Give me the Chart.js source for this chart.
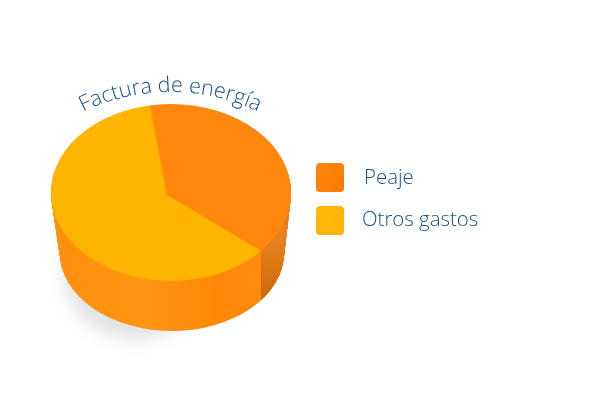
<!DOCTYPE html>
<html lang="es">
<head>
<meta charset="utf-8">
<title>Factura de energía</title>
<script src="https://cdn.jsdelivr.net/npm/chart.js@4"></script>
<style>
  html, body { margin: 0; padding: 0; background: #fff; }
  #wrap { position: relative; width: 600px; height: 404px; overflow: hidden; }
  canvas { position: absolute; left: 0; top: 0; }
  .swatch { position: absolute; left: 316px; width: 28px; height: 29px; border-radius: 4px; }
  .label { position: absolute; font: 300 20.4px "Open Sans", sans-serif; color: #14548a; line-height: 24px; white-space: nowrap; }
</style>
</head>
<body>
<div id="wrap">
  <canvas id="chart" width="600" height="404"></canvas>
</div>
<script>
// Data
const title = 'Factura de energía';
const categories = ['Peaje', 'Otros gastos'];
const shares = [38, 62];
const sliceColors = ['#ff870d', '#ffb400'];
const swatchColors = ['linear-gradient(135deg,#ff8610,#fb7804)', 'linear-gradient(135deg,#ffbc0c,#ffb004)'];

// Disc geometry, as seen in the picture
const topFace = { x: 171, y: 192.5, rx: 120, ry: 88.5 };
const baseFace = { x: 172, y: 253, rx: 112, ry: 78 };
const apex = { x: 167, y: 195 };
const titleArc = { x: 170.5, y: 295, r: 203 };

const wrap = document.getElementById('wrap');
categories.forEach((name, i) => {
  const swatch = document.createElement('div');
  swatch.className = 'swatch';
  swatch.style.top = (163 + i * 43) + 'px';
  swatch.style.background = swatchColors[i];
  wrap.appendChild(swatch);
  const label = document.createElement('div');
  label.className = 'label';
  label.textContent = name;
  label.style.left = (i === 0 ? 364 : 362) + 'px';
  label.style.top = (164 + i * 42) + 'px';
  wrap.appendChild(label);
});

function ellipsePath(ctx, e) {
  ctx.beginPath();
  ctx.ellipse(e.x, e.y, e.rx, e.ry, 0, 0, Math.PI * 2);
}

// Stack of ellipses between base and top face makes the side wall
function fillWall(ctx) {
  for (let t = 0; t <= 1; t += 0.01) {
    ctx.beginPath();
    ctx.ellipse(
      baseFace.x + (topFace.x - baseFace.x) * t,
      baseFace.y + (topFace.y - baseFace.y) * t,
      baseFace.rx + (topFace.rx - baseFace.rx) * t,
      baseFace.ry + (topFace.ry - baseFace.ry) * t,
      0, 0, Math.PI * 2
    );
    ctx.fill();
  }
}

// Where a slice edge leaves the apex and meets the rim of the top face
function rimPoint(angle) {
  const dx = Math.cos(angle) * topFace.rx;
  const dy = Math.sin(angle) * topFace.ry;
  const ox = (apex.x - topFace.x) / topFace.rx;
  const oy = (apex.y - topFace.y) / topFace.ry;
  const ux = dx / topFace.rx;
  const uy = dy / topFace.ry;
  const b = ox * ux + oy * uy;
  const s = -b + Math.sqrt(b * b - (ox * ox + oy * oy - 1));
  return { x: apex.x + dx * s, y: apex.y + dy * s };
}

const discPlugin = {
  id: 'disc',
  beforeDatasetsDraw(chart) {
    const ctx = chart.ctx;
    const arc = chart.getDatasetMeta(0).data[0];
    const rim = rimPoint(arc.endAngle);

    // soft shadow on the floor
    ctx.save();
    ctx.filter = 'blur(8px)';
    ctx.fillStyle = 'rgba(70,70,70,0.15)';
    ctx.beginPath();
    ctx.ellipse(135, 270, 72, 70, 0, 0, Math.PI * 2);
    ctx.fill();
    ctx.restore();

    // front wall
    ctx.save();
    const front = ctx.createLinearGradient(topFace.x - topFace.rx, 0, rim.x, 0);
    front.addColorStop(0, '#ff8f0e');
    front.addColorStop(0.45, '#ff9512');
    front.addColorStop(0.8, '#ff8708');
    front.addColorStop(1, '#ff8c0e');
    ctx.fillStyle = front;
    fillWall(ctx);
    ctx.restore();

    // darker wall right of the Peaje edge
    ctx.save();
    ctx.beginPath();
    ctx.rect(rim.x, 0, chart.width - rim.x, chart.height);
    ctx.clip();
    const side = ctx.createLinearGradient(0, rim.y - 10, 0, rim.y + 49);
    side.addColorStop(0, '#e8801e');
    side.addColorStop(1, '#cb6a06');
    ctx.fillStyle = side;
    fillWall(ctx);
    ctx.restore();

    // top face: pie stretched to the ellipse around its off-centre apex
    ctx.save();
    ellipsePath(ctx, topFace);
    ctx.clip();
    const scale = 1.08 * topFace.rx / arc.outerRadius;
    ctx.translate(apex.x, apex.y);
    ctx.scale(scale, scale * topFace.ry / topFace.rx);
    ctx.translate(-arc.x, -arc.y);
  },
  afterDatasetsDraw(chart) {
    const ctx = chart.ctx;
    ctx.restore();

    // title bent along the rim
    ctx.save();
    ctx.font = '300 21.6px "Open Sans", sans-serif';
    ctx.fillStyle = '#14548a';
    ctx.textAlign = 'left';
    ctx.textBaseline = 'alphabetic';
    const total = ctx.measureText(title).width;
    [...title].forEach((ch, i) => {
      const before = ctx.measureText(title.slice(0, i)).width;
      const angle = (before - total / 2) / titleArc.r;
      ctx.save();
      ctx.translate(titleArc.x + Math.sin(angle) * titleArc.r, titleArc.y - Math.cos(angle) * titleArc.r);
      ctx.rotate(angle);
      ctx.fillText(ch, 0, 0);
      ctx.restore();
    });
    ctx.restore();
  }
};

new Chart(document.getElementById('chart'), {
  type: 'pie',
  data: {
    labels: categories,
    datasets: [{
      data: shares,
      backgroundColor: sliceColors,
      borderWidth: 0,
      clip: false
    }]
  },
  options: {
    responsive: false,
    animation: false,
    rotation: -8,
    layout: { padding: 40 },
    plugins: {
      legend: { display: false },
      tooltip: { enabled: false }
    }
  },
  plugins: [discPlugin]
});
</script>
</body>
</html>
